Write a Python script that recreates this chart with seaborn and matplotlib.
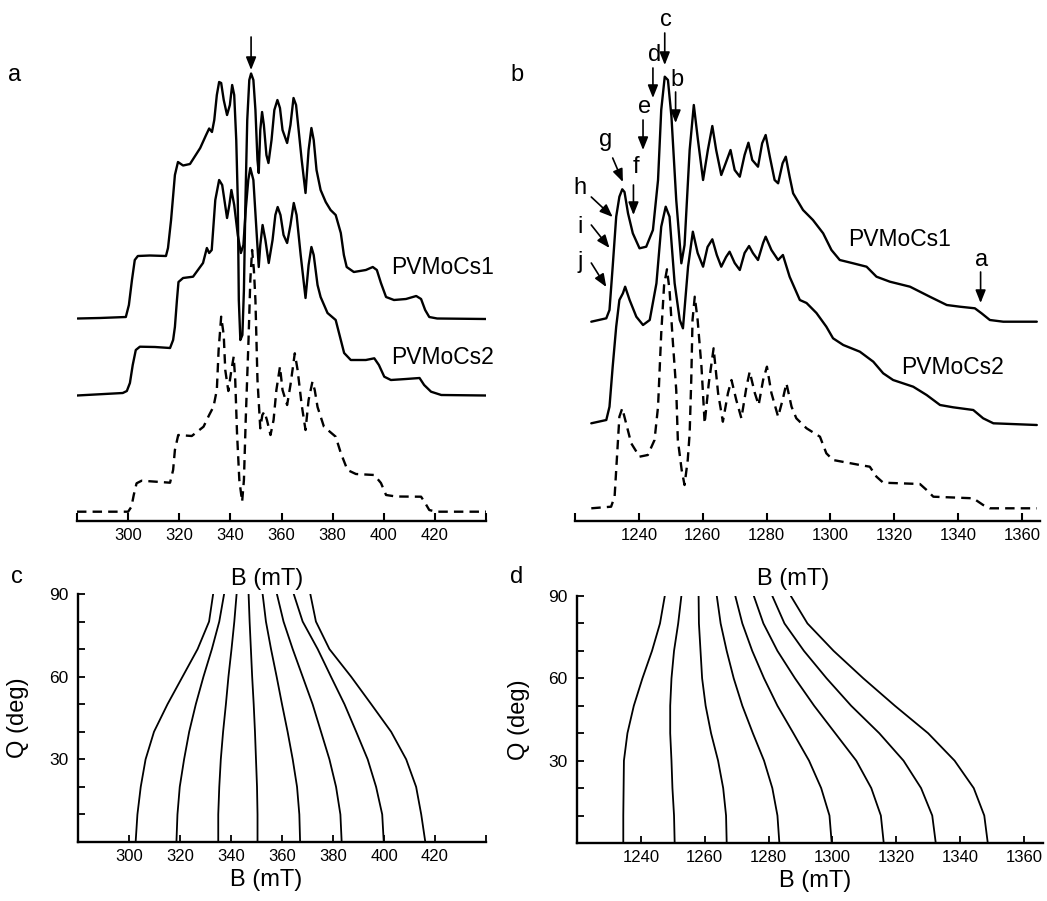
import numpy as np
import pandas as pd
import seaborn as sns
import matplotlib.pyplot as plt

# ---------------- panel a : low-field spectra (B in mT, intensity arb. units)
a_B_cs1 = [280.2, 288.9, 299.1, 300.3, 301.5, 302.6, 303.8, 308.5, 314.8, 315.6, 316.8, 318.3, 319.5, 321.5,
           324.2, 328.2, 330.5, 331.7, 332.8, 333.7, 334.7, 335.6, 336.4, 337.4, 338.7, 339.8, 340.7, 341.5,
           342.3, 342.9, 343.3, 343.9, 344.7, 345.3, 345.9, 346.6, 347.4, 348.1, 349.0, 349.8, 350.6, 351.1,
           351.7, 352.4, 353.1, 354.1, 354.9, 356.1, 357.2, 358.4, 359.4, 360.4, 362.2, 363.5, 364.7, 365.7,
           366.7, 367.9, 369.4, 370.6, 371.7, 372.6, 373.7, 375.3, 377.3, 379.2, 381.2, 383.2, 384.4, 385.5,
           388.3, 393.0, 395.7, 397.3, 398.9, 400.9, 404.0, 408.7, 412.7, 414.6, 416.2, 417.8, 420.9, 440.0]
a_I_cs1 = [202.5, 203, 204, 216, 241, 261, 265, 265.5, 265, 273, 301, 346, 359, 355.5,
           357, 373, 386, 392.5, 389, 401, 426, 439, 438, 421, 406, 416, 436, 426,
           381, 321, 221, 181, 186, 231, 321, 401, 441, 447.5, 441, 411, 361, 348,
           391, 409, 396, 366, 358, 381, 411, 421, 413, 391, 378, 396, 423, 416,
           391, 361, 328, 371, 393, 381, 351, 331, 319, 311, 306, 288, 266, 254,
           249, 251, 254, 251, 238, 224, 221, 222, 225, 222, 211, 204, 202.5, 202]

a_B_cs2 = [280.0, 297.9, 299.5, 300.7, 301.8, 303.0, 304.6, 310.5, 316.4, 317.6, 318.3, 319.1, 319.7, 321.5,
           325.4, 329.3, 330.8, 331.7, 332.7, 334.1, 335.6, 336.8, 338.7, 339.6, 340.4, 341.5, 342.9, 344.1,
           345.1, 346.0, 347.0, 347.8, 349.0, 350.2, 351.1, 351.7, 352.6, 353.7, 355.0, 356.5, 357.6, 358.5,
           359.6, 360.8, 362.2, 363.5, 364.8, 365.9, 367.5, 369.4, 370.6, 371.7, 372.6, 374.1, 375.3, 378.0,
           381.2, 382.5, 384.5, 387.1, 393.0, 396.3, 398.1, 400.2, 402.8, 408.7, 414.0, 415.8, 418.5, 422.5, 440.0]
a_I_cs2 = [125.5, 128, 130, 138, 156, 171, 174.3, 174, 173, 181, 194, 221, 239, 243,
           244.3, 258, 273, 268, 271, 321, 341, 336, 303, 316, 331, 316, 286, 268,
           276, 311, 341, 353, 341, 291, 254, 276, 296, 281, 258, 281, 306, 314,
           306, 286, 278, 296, 318, 306, 266, 223, 256, 274, 266, 236, 224, 208,
           201, 188, 168, 161, 161, 162.7, 156, 144.3, 141, 142, 143, 136, 129.3, 126, 125.5]

a_B_sim = [280.0, 300.0, 301.3, 302.2, 303.3, 305.3, 316.4, 317.6, 318.3, 319.6, 324.9, 329.5, 331.7, 333.4,
           334.7, 335.4, 336.4, 337.4, 338.0, 339.2, 340.4, 341.3, 341.9, 342.6, 343.5, 344.6, 345.3, 346.0,
           347.1, 347.8, 348.5, 349.2, 349.8, 350.6, 351.7, 352.5, 353.3, 354.3, 355.7, 356.9, 358.0, 359.4,
           360.4, 362.2, 363.5, 365.2, 366.3, 367.9, 369.4, 370.6, 372.1, 373.0, 374.1, 376.6, 381.2, 383.2,
           385.8, 389.1, 396.3, 398.9, 400.9, 404.8, 414.6, 416.2, 417.8, 420.5, 440.0]
a_I_sim = [9.3, 9.3, 14.3, 26, 37.7, 40.3, 38.3, 51, 71, 86, 85, 94.3, 106, 114.3,
           131, 171, 204.3, 186, 151, 130, 151, 164.3, 141, 88, 41, 19.3, 41, 101,
           181, 241, 271, 251, 221, 141, 92.7, 106, 109.3, 101, 86, 101, 131, 154.3,
           131, 116, 136, 167.7, 151, 116, 91, 121, 139.3, 131, 114, 94.3, 84.3, 68,
           51, 47, 46, 38, 26, 24.5, 24.3, 18, 11, 9.3, 9.3]

# ---------------- panel b : high-field spectra
b_B_cs1 = [1225.1, 1229.8, 1230.8, 1231.8, 1232.9, 1233.9, 1234.8, 1235.5, 1236.6, 1238.1, 1240.2, 1242.3,
           1244.4, 1246.0, 1247.0, 1248.1, 1249.1, 1250.2, 1251.7, 1253.3, 1254.3, 1255.9, 1257.2, 1258.5,
           1260.1, 1261.6, 1263.0, 1264.2, 1265.8, 1267.2, 1268.7, 1270.0, 1271.6, 1273.1, 1274.3, 1275.5,
           1277.3, 1278.6, 1279.7, 1281.0, 1282.5, 1283.6, 1285.0, 1286.0, 1287.2, 1288.3, 1291.4, 1294.5,
           1297.7, 1300.3, 1302.9, 1307.1, 1311.3, 1314.4, 1318.6, 1324.9, 1331.1, 1336.4, 1340.5, 1345.2,
           1347.3, 1349.9, 1354.1, 1364.6]
b_I_cs1 = [199.3, 202.7, 211, 254.3, 304.3, 324.3, 331.7, 329, 307.7, 287.7, 272.7, 274.3,
           291, 341, 411, 444.3, 441, 404.3, 321, 257.7, 276, 371, 416, 381,
           341, 371, 395, 371, 346, 358, 371, 351, 344.3, 366, 378.3, 361,
           354.3, 377.7, 386, 364.3, 341, 337.7, 357.7, 364.3, 344.3, 327.7, 311, 301,
           287.7, 271, 261, 257.7, 254.3, 244.3, 239.3, 234.3, 224.3, 216, 214.3, 212.7,
           207.7, 201, 199.3, 199.3]

b_B_cs2 = [1225.1, 1229.8, 1230.8, 1231.8, 1232.9, 1233.9, 1235.0, 1235.7, 1237.1, 1239.2, 1241.3, 1243.4,
           1245.5, 1247.0, 1248.4, 1249.6, 1251.2, 1252.8, 1253.8, 1255.4, 1256.9, 1258.4, 1260.1, 1261.5,
           1263.0, 1264.4, 1265.8, 1267.3, 1268.4, 1270.0, 1271.6, 1273.1, 1274.5, 1275.7, 1277.3, 1278.9,
           1279.7, 1281.5, 1283.6, 1285.1, 1287.2, 1290.4, 1292.5, 1295.6, 1298.7, 1300.8, 1304.0, 1309.2,
           1313.4, 1316.5, 1319.6, 1325.9, 1330.1, 1334.3, 1338.4, 1344.7, 1347.8, 1351.0, 1364.6]
b_I_cs2 = [97.7, 101, 114.3, 154.3, 194.3, 221, 227.7, 234.3, 221, 204.3, 196, 201,
           237.7, 294.3, 314.3, 304.3, 237.7, 201, 192.7, 254.3, 289.3, 268, 254.3, 274,
           281.7, 266, 254.3, 264, 269.3, 258, 251, 268, 275, 268, 261, 278,
           284.3, 271, 261, 266, 244.3, 221, 218, 208, 194.3, 182.7, 176, 169.3,
           159.3, 147.7, 141, 134.3, 126, 116, 113.7, 111, 102.7, 97.7, 96]

b_B_sim = [1225.1, 1231.3, 1232.4, 1233.4, 1233.9, 1234.8, 1236.0, 1237.6, 1240.2, 1242.8, 1244.9, 1246.0,
           1247.0, 1247.9, 1248.8, 1249.6, 1250.6, 1251.7, 1252.2, 1253.4, 1254.3, 1255.3, 1255.9, 1256.4,
           1256.8, 1257.5, 1258.4, 1259.6, 1260.6, 1261.9, 1263.4, 1264.8, 1266.3, 1267.9, 1269.0, 1270.5,
           1272.1, 1273.7, 1274.7, 1276.3, 1277.5, 1278.9, 1280.1, 1281.5, 1283.6, 1285.0, 1286.2, 1287.8,
           1289.3, 1292.5, 1296.7, 1298.7, 1300.8, 1309.2, 1312.3, 1314.4, 1316.5, 1328.0, 1330.1, 1332.2,
           1344.7, 1347.8, 1349.9, 1364.6]
b_I_sim = [12.7, 14.3, 24.3, 77.7, 104.3, 112.7, 97.7, 77.7, 64.3, 66, 81, 114.3,
           187.7, 236, 251.7, 231, 181, 131, 81, 51, 36, 61, 87.7, 141,
           201, 224.3, 201, 154.3, 97.7, 138, 172.7, 128, 99.3, 128, 141, 121,
           102.7, 134.3, 149.3, 128, 116, 141, 154.3, 128, 104.3, 121, 137.7, 114.3,
           102.7, 92.7, 84.3, 67.7, 61, 56, 54.3, 44.3, 38.3, 37, 31, 24.3,
           22.7, 16, 12.7, 12.7]

# labelled arrows in panel b: (label, tip B, tip I, tail B, tail I, text B, text I)
b_arrows = [('c', 1248.1, 456, 1248.1, 488, 1248.4, 501),
            ('d', 1244.4, 423, 1244.4, 453, 1244.9, 466),
            ('b', 1251.5, 398, 1251.5, 429, 1251.8, 441),
            ('e', 1241.3, 371, 1241.3, 401, 1241.8, 414),
            ('f', 1238.3, 306, 1238.3, 336, 1239.0, 354),
            ('g', 1235.0, 339, 1231.8, 363, 1229.6, 381),
            ('h', 1231.8, 304, 1225.1, 324, 1221.6, 333),
            ('i', 1230.8, 273, 1225.1, 296, 1221.6, 294),
            ('j', 1229.8, 234, 1225.1, 258, 1221.6, 259),
            ('a', 1347.0, 218, 1347.0, 249, 1347.3, 261)]

# ---------------- panels c, d : angular dependence of the eight lines
theta = [0, 10, 20, 30, 40, 50, 60, 70, 80, 90]
c_lines = [[302.6, 303.3, 304.6, 306.5, 309.8, 315.1, 321.0, 326.9, 331.4, 333.0],
           [318.6, 319.0, 319.9, 321.6, 323.6, 326.2, 329.2, 332.5, 335.4, 337.3],
           [335.0, 335.0, 335.4, 336.0, 336.9, 338.0, 339.0, 340.2, 341.3, 342.2],
           [350.4, 350.4, 350.2, 349.8, 349.4, 348.9, 348.3, 347.8, 347.3, 346.9],
           [367.1, 366.8, 365.9, 364.2, 362.2, 360.0, 357.9, 355.7, 353.7, 352.4],
           [383.4, 382.9, 381.2, 378.6, 375.3, 372.0, 368.1, 364.2, 360.6, 358.0],
           [399.9, 399.3, 396.9, 393.6, 389.1, 384.5, 379.2, 374.0, 368.1, 364.6],
           [416.2, 414.6, 412.6, 408.7, 402.8, 395.0, 387.1, 378.6, 373.3, 371.1]]
d_lines = [[1234.5, 1234.5, 1234.6, 1234.7, 1235.8, 1237.8, 1240.5, 1243.5, 1246.0, 1247.5],
           [1250.6, 1250.4, 1249.9, 1249.6, 1249.2, 1249.2, 1249.6, 1250.4, 1251.7, 1252.7],
           [1266.9, 1266.7, 1265.8, 1264.2, 1262.0, 1260.3, 1259.2, 1258.7, 1258.2, 1258.1],
           [1283.4, 1282.8, 1281.2, 1278.6, 1275.1, 1271.8, 1269.1, 1266.9, 1265.0, 1263.8],
           [1299.8, 1299.1, 1296.5, 1292.7, 1287.8, 1282.8, 1278.6, 1274.9, 1271.8, 1269.6],
           [1316.1, 1315.2, 1312.2, 1307.5, 1300.9, 1294.3, 1288.3, 1282.8, 1278.4, 1275.4],
           [1332.4, 1331.3, 1327.8, 1322.3, 1314.7, 1305.9, 1298.2, 1291.1, 1285.0, 1281.2],
           [1348.7, 1347.6, 1344.3, 1338.3, 1330.0, 1319.6, 1309.7, 1300.4, 1292.2, 1287.0]]

a_ticks = [280, 300, 320, 340, 360, 380, 400, 420, 440]
b_ticks = [1220, 1240, 1260, 1280, 1300, 1320, 1340, 1360]

sns.set_style("ticks")
plt.rcParams['font.family'] = ['Liberation Sans', 'DejaVu Sans']
plt.rcParams.update({'text.color': 'black', 'axes.labelcolor': 'black', 'axes.edgecolor': 'black',
                     'xtick.color': 'black', 'ytick.color': 'black'})

W, H = 1047, 901
fig = plt.figure(figsize=(W / 100, H / 100), dpi=100)


def px_axes(left, top, right, bottom):
    return fig.add_axes([left / W, 1 - bottom / H, (right - left) / W, (bottom - top) / H])


def spectrum_axes(ax, xlim, ticks):
    ax.set_xlim(*xlim)
    ax.set_ylim(0, 481)
    ax.set_yticks([])
    for s in ['left', 'top', 'right']:
        ax.spines[s].set_visible(False)
    ax.spines['bottom'].set_linewidth(1.7)
    ax.set_xticks(ticks)
    ax.set_xticklabels(['' if (t == ticks[0] or t > xlim[1] - 10) else str(t) for t in ticks])
    ax.tick_params(axis='x', direction='in', length=6, width=1.5, labelsize=12, pad=5)
    ax.set_xlabel('B (mT)', fontsize=17)


def draw(ax, x, y, dashed=False):
    sns.lineplot(x=x, y=y, ax=ax, color='black', lw=1.7, sort=False, estimator=None,
                 linestyle=(0, (4, 2.6)) if dashed else '-',
                 solid_joinstyle='round', dash_joinstyle='round')


arrow_style = dict(arrowstyle='-|>,head_length=0.55,head_width=0.22', color='black',
                   lw=1.2, mutation_scale=14, shrinkA=0, shrinkB=0)

# ---------- a
ax_a = px_axes(77, 40, 486, 521)
draw(ax_a, a_B_cs1, a_I_cs1)
draw(ax_a, a_B_cs2, a_I_cs2)
draw(ax_a, a_B_sim, a_I_sim, dashed=True)
spectrum_axes(ax_a, (280, 440), a_ticks)
ax_a.xaxis.set_label_coords(0.465, -0.097)
ax_a.text(403, 254, 'PVMoCs1', fontsize=16.5, ha='left', va='center')
ax_a.text(403, 164, 'PVMoCs2', fontsize=16.5, ha='left', va='center')
ax_a.annotate('', xy=(348.1, 451), xytext=(348.1, 484), annotation_clip=False, arrowprops=arrow_style)

# ---------- b
ax_b = px_axes(575, 40, 1040, 521)
draw(ax_b, b_B_cs1, b_I_cs1)
draw(ax_b, b_B_cs2, b_I_cs2)
draw(ax_b, b_B_sim, b_I_sim, dashed=True)
spectrum_axes(ax_b, (1220, 1365.6), b_ticks)
ax_b.set_xticklabels([str(t) if t > 1220 else '' for t in b_ticks])
ax_b.xaxis.set_label_coords(0.47, -0.097)
ax_b.text(1305.5, 281, 'PVMoCs1', fontsize=16.5, ha='left', va='center')
ax_b.text(1322, 154, 'PVMoCs2', fontsize=16.5, ha='left', va='center')
for lab, xt, yt, xs, ys, xl, yl in b_arrows:
    ax_b.annotate('', xy=(xt, yt), xytext=(xs, ys), annotation_clip=False, arrowprops=arrow_style)
    ax_b.text(xl, yl, lab, fontsize=17, ha='center', va='center')


# ---------- c, d
def angle_axes(ax, xlim, ticks):
    ax.set_xlim(*xlim)
    ax.set_ylim(0, 90)
    for s in ['top', 'right']:
        ax.spines[s].set_visible(False)
    ax.spines['bottom'].set_linewidth(1.7)
    ax.spines['left'].set_linewidth(1.7)
    ax.set_xticks(ticks)
    ax.set_xticklabels(['' if (t == ticks[0] or t > xlim[1] - 10) else str(t) for t in ticks])
    ax.set_yticks(range(0, 91, 10))
    ax.set_yticklabels(['30' if t == 30 else '60' if t == 60 else '90' if t == 90 else ''
                        for t in range(0, 91, 10)])
    ax.tick_params(axis='both', direction='in', length=5, width=1.3)
    ax.tick_params(axis='x', pad=5, labelsize=12)
    ax.tick_params(axis='y', pad=7, labelsize=12.5)
    ax.set_xlabel('B (mT)', fontsize=17)
    ax.set_ylabel('Q (deg)', fontsize=17)


ax_c = px_axes(78, 594, 486, 842)
for line in c_lines:
    sns.lineplot(x=line, y=theta, ax=ax_c, color='black', lw=1.3, sort=False, estimator=None,
                 solid_joinstyle='round')
angle_axes(ax_c, (280, 440), a_ticks)
ax_c.xaxis.set_label_coords(0.46, -0.108)
ax_c.yaxis.set_label_coords(-0.12, 0.5)

ax_d = px_axes(577, 596, 1043, 843)
for line in d_lines:
    sns.lineplot(x=line, y=theta, ax=ax_d, color='black', lw=1.3, sort=False, estimator=None,
                 solid_joinstyle='round')
angle_axes(ax_d, (1220, 1366), b_ticks)
ax_d.set_xticklabels([str(t) if t > 1220 else '' for t in b_ticks])
ax_d.xaxis.set_label_coords(0.51, -0.108)
ax_d.yaxis.set_label_coords(-0.1, 0.5)

# panel letters
fig.text(15 / W, 1 - 75 / H, 'a', fontsize=17, ha='center', va='center')
fig.text(517 / W, 1 - 75 / H, 'b', fontsize=17, ha='center', va='center')
fig.text(17 / W, 1 - 577 / H, 'c', fontsize=17, ha='center', va='center')
fig.text(517 / W, 1 - 577 / H, 'd', fontsize=17, ha='center', va='center')

fig.savefig('out.png', dpi=100)
